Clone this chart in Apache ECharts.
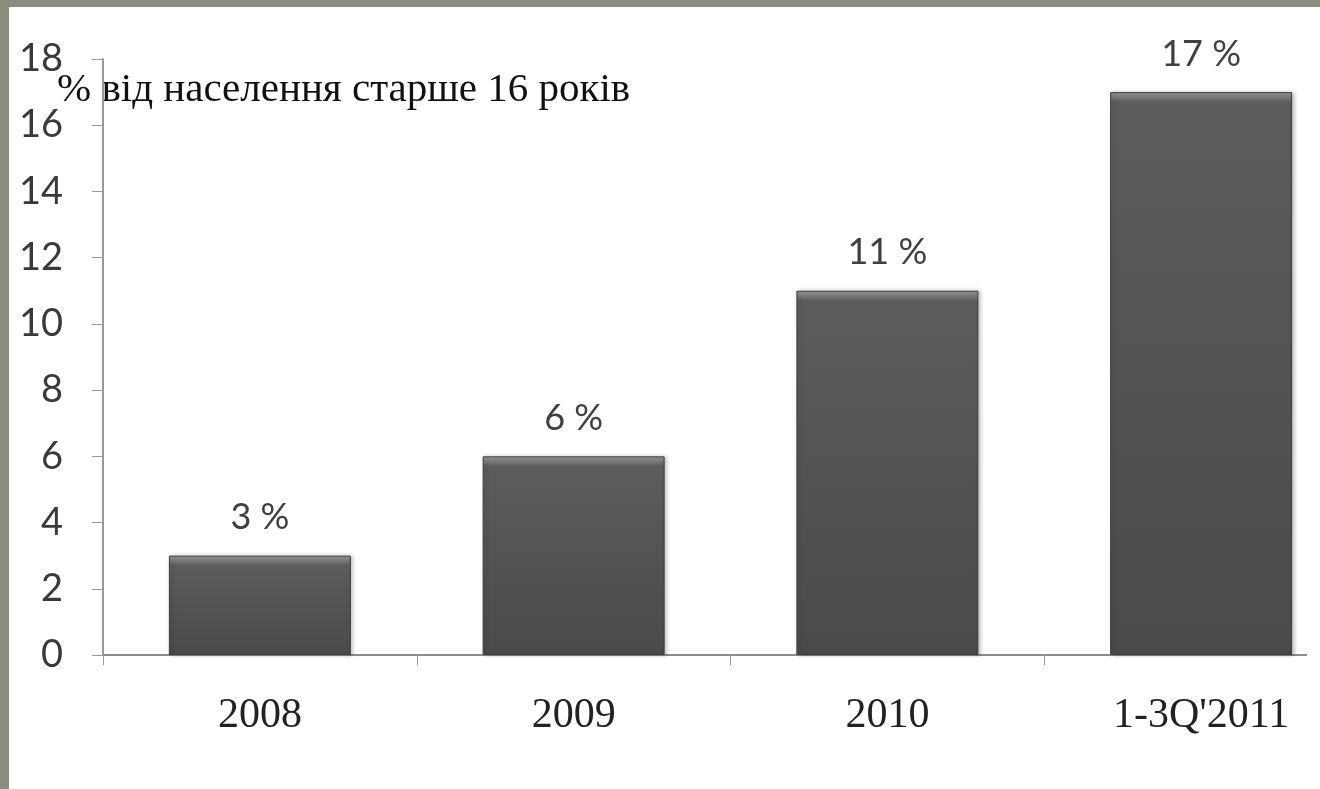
<!DOCTYPE html>
<html>
<head>
<meta charset="utf-8">
<script src="https://cdn.jsdelivr.net/npm/echarts@6/dist/echarts.min.js"></script>
<style>
    html, body {margin: 0; padding: 0; background: #8a8d7e; overflow: hidden;}
    #sheet {position: absolute; left: 9px; top: 7px; width: 1311px; height: 782px; background: #fff;}
    #chart {position: absolute; left: 0; top: 0; width: 1360px; height: 789px;}
</style>
</head>
<body>
<div id="sheet"></div>
<div id="chart"></div>
<script>
// values
const categories = ['2008', '2009', '2010', "1-3Q'2011"];
const shares = [3, 6, 11, 17];
const yTicks = [0, 2, 4, 6, 8, 10, 12, 14, 16, 18];
const unitNote = '% від населення старше 16 років';

let chart = echarts.init(document.getElementById('chart'));

// bevel on top of each bar: keep it ~10px high whatever the bar height
function bevel(v) {
    let h = v * 33.1;
    let edge = Math.min(0.5, 10 / h);
    return new echarts.graphic.LinearGradient(0, 0, 0, 1, [
        {offset: 0, color: '#9a9a9a'},
        {offset: edge * 0.5, color: '#7a7a7a'},
        {offset: edge, color: '#5c5c5c'},
        {offset: 1, color: '#4a4a4a'}
    ]);
}

chart.setOption({
    backgroundColor: 'transparent',
    animation: false,
    grid: {left: 103, top: 59, right: 2, bottom: 134},
    graphic: [
        {
            type: 'text',
            left: 57,
            top: 70,
            style: {text: unitNote, fill: '#111', font: '41px "Liberation Serif"'}
        },
        {
            type: 'rect',
            z: 100,
            shape: {x: 1307, y: 640, width: 60, height: 30},
            style: {fill: '#fff'}
        }
    ],
    xAxis: {
        type: 'category',
        data: categories,
        axisLine: {lineStyle: {color: '#8c8c8c', width: 2}},
        axisTick: {show: true, length: 10, lineStyle: {color: '#9a9a9a'}},
        axisLabel: {
            margin: 40,
            color: '#222',
            fontFamily: 'Liberation Serif',
            fontSize: 42
        }
    },
    yAxis: {
        type: 'value',
        min: yTicks[0],
        max: yTicks[yTicks.length - 1],
        interval: 2,
        splitLine: {show: false},
        axisLine: {show: true, lineStyle: {color: '#9a9a9a', width: 2}},
        axisTick: {show: true, length: 11, lineStyle: {color: '#9a9a9a'}},
        axisLabel: {
            margin: 40,
            color: '#3a3a3a',
            fontFamily: 'Lato',
            fontSize: 38
        }
    },
    series: [{
        type: 'bar',
        data: shares.map(v => ({value: v, itemStyle: {color: bevel(v)}})),
        barCategoryGap: '42%',
        itemStyle: {
            borderColor: '#3c3c3c',
            borderWidth: 1,
            shadowColor: 'rgba(0,0,0,0.25)',
            shadowBlur: 4,
            shadowOffsetX: 2
        },
        label: {
            show: true,
            position: 'top',
            distance: 20,
            formatter: p => p.value + ' %',
            color: '#404040',
            fontFamily: 'Lato',
            fontSize: 36
        }
    }]
});
</script>
</body>
</html>
